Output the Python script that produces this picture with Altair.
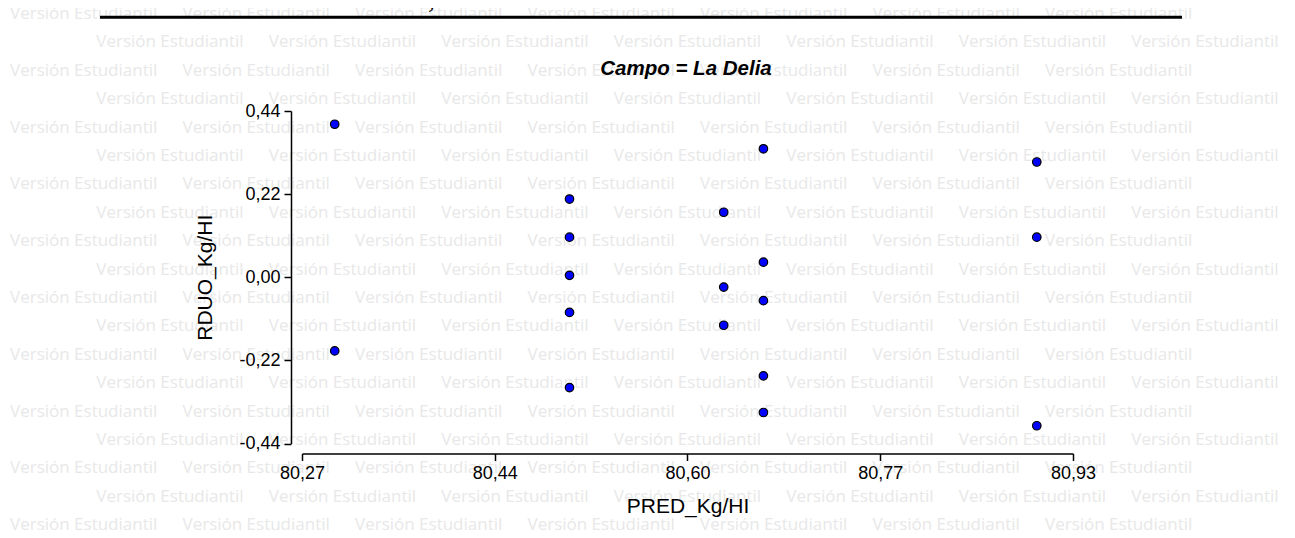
import altair as alt
import pandas as pd

# ---------------- data ----------------
pred = [80.298, 80.298,
        80.499, 80.499, 80.499, 80.499, 80.499,
        80.631, 80.631, 80.631,
        80.665, 80.665, 80.665, 80.665, 80.665,
        80.899, 80.899, 80.899]
rduo = [0.405, -0.195,
        0.207, 0.106, 0.005, -0.093, -0.292,
        0.172, -0.026, -0.127,
        0.340, 0.040, -0.062, -0.261, -0.358,
        0.305, 0.106, -0.393]

x_ticks = [80.27, 80.435, 80.60, 80.765, 80.93]
x_labels = ["80,27", "80,44", "80,60", "80,77", "80,93"]
y_ticks = [-0.44, -0.22, 0.0, 0.22, 0.44]
y_labels = ["-0,44", "-0,22", "0,00", "0,22", "0,44"]

title_text = "Campo = La Delia"
x_title = "PRED_Kg/HI"
y_title = "RDUO_Kg/HI"

table_cells = ["Total", "1,02", "20"]

watermark_text = "Versión Estudiantil"
wm_rows = list(range(19))
wm_cols = list(range(7))

# ---------------- layout ----------------
PAD_L, PAD_T, PAD_R, PAD_B = 294, 103, 213, 86
W, H = 771, 332.5
FONT = "Liberation Sans"


def label_expr(vals, labs):
    expr = "''"
    for v, l in reversed(list(zip(vals, labs))):
        expr = f"datum.value == {v} ? '{l}' : ({expr})"
    return expr


pts = pd.DataFrame({"PRED": pred, "RDUO": rduo})

wm = pd.DataFrame(
    [{"wx": j + 0.5 * (k % 2), "wy": k, "label": watermark_text}
     for k in wm_rows for j in wm_cols]
)

# watermark background
wm_layer = alt.Chart(wm).mark_text(
    font="Open Sans", fontSize=17, color="#e8e8e8", align="left", baseline="middle"
).encode(
    x=alt.X("wx:Q", axis=None,
            scale=alt.Scale(domain=[0, 1], range=[10 - 8 - PAD_L, 10 - 8 - PAD_L + 172.5],
                            nice=False, zero=False)),
    y=alt.Y("wy:Q", axis=None,
            scale=alt.Scale(domain=[0, 1], range=[14 - 8 - PAD_T, 14 - 8 - PAD_T + 28.4],
                            nice=False, zero=False)),
    text="label:N",
)

x_axis = alt.Axis(
    values=x_ticks, labelExpr=label_expr(x_ticks, x_labels), grid=False, offset=10,
    domainColor="black", domainWidth=1.5, tickColor="black", tickWidth=1.5, tickSize=7,
    labelFont=FONT, labelFontSize=18, labelColor="black", labelPadding=4,
    labelFlush=False, labelOverlap=False,
    title=x_title, titleFont=FONT, titleFontSize=21, titleFontWeight="normal",
    titleColor="black", titleX=W / 2, titleY=58.5, titleAlign="center",
    titleBaseline="alphabetic", zindex=1,
)
y_axis = alt.Axis(
    values=y_ticks, labelExpr=label_expr(y_ticks, y_labels), grid=False, offset=11,
    domainColor="black", domainWidth=1.5, tickColor="black", tickWidth=1.5, tickSize=7,
    labelFont=FONT, labelFontSize=18, labelColor="black", labelPadding=4,
    labelFlush=False, labelOverlap=False,
    title=y_title, titleFont=FONT, titleFontSize=21, titleFontWeight="normal",
    titleColor="black", titleX=-86, titleY=H / 2, titleAlign="center",
    titleBaseline="middle", titleAngle=270, zindex=1,
)

points = alt.Chart(pts).mark_circle(
    size=72, color="#0000ff", stroke="black", strokeWidth=1.2, opacity=1
).encode(
    x=alt.X("PRED:Q", axis=x_axis,
            scale=alt.Scale(domain=[80.27, 80.93], nice=False, zero=False)),
    y=alt.Y("RDUO:Q", axis=y_axis,
            scale=alt.Scale(domain=[-0.44, 0.44], nice=False, zero=False)),
)

one = pd.DataFrame({"a": [0]})

table_rule = alt.Chart(one).mark_rule(color="black", strokeWidth=3).encode(
    x=alt.value(100 - 8 - PAD_L), x2=alt.value(1182 - 8 - PAD_L),
    y=alt.value(17.3 - 8 - PAD_T),
)

t_total = alt.Chart(one).mark_text(
    text=table_cells[0], font="Liberation Serif", fontSize=28, color="black",
    align="left", baseline="alphabetic",
).encode(x=alt.value(117 - 8 - PAD_L), y=alt.value(8 - 8 - PAD_T))
t_val = alt.Chart(one).mark_text(
    text=table_cells[1], font="Liberation Serif", fontSize=28, color="black",
    align="right", baseline="alphabetic",
).encode(x=alt.value(463 - 8 - PAD_L), y=alt.value(8 - 8 - PAD_T))
t_n = alt.Chart(one).mark_text(
    text=table_cells[2], font="Liberation Serif", fontSize=28, color="black",
    align="right", baseline="alphabetic",
).encode(x=alt.value(658 - 8 - PAD_L), y=alt.value(8 - 8 - PAD_T))

title_layer = alt.Chart(one).mark_text(
    text=title_text, font=FONT, fontSize=20.5, fontWeight="bold", fontStyle="italic",
    color="black", align="center", baseline="alphabetic",
).encode(x=alt.value(686 - 8 - PAD_L), y=alt.value(75 - 8 - PAD_T))

chart = alt.layer(
    wm_layer, table_rule, t_total, t_val, t_n, title_layer, points
).resolve_scale(
    x="independent", y="independent"
).properties(
    width=W, height=H,
    autosize=alt.AutoSizeParams(type="none"),
    padding={"left": PAD_L, "top": PAD_T, "right": PAD_R, "bottom": PAD_B},
).configure(background="white").configure_view(stroke=None)

chart.save("out.html", embed_options={"renderer": "svg", "actions": False})
